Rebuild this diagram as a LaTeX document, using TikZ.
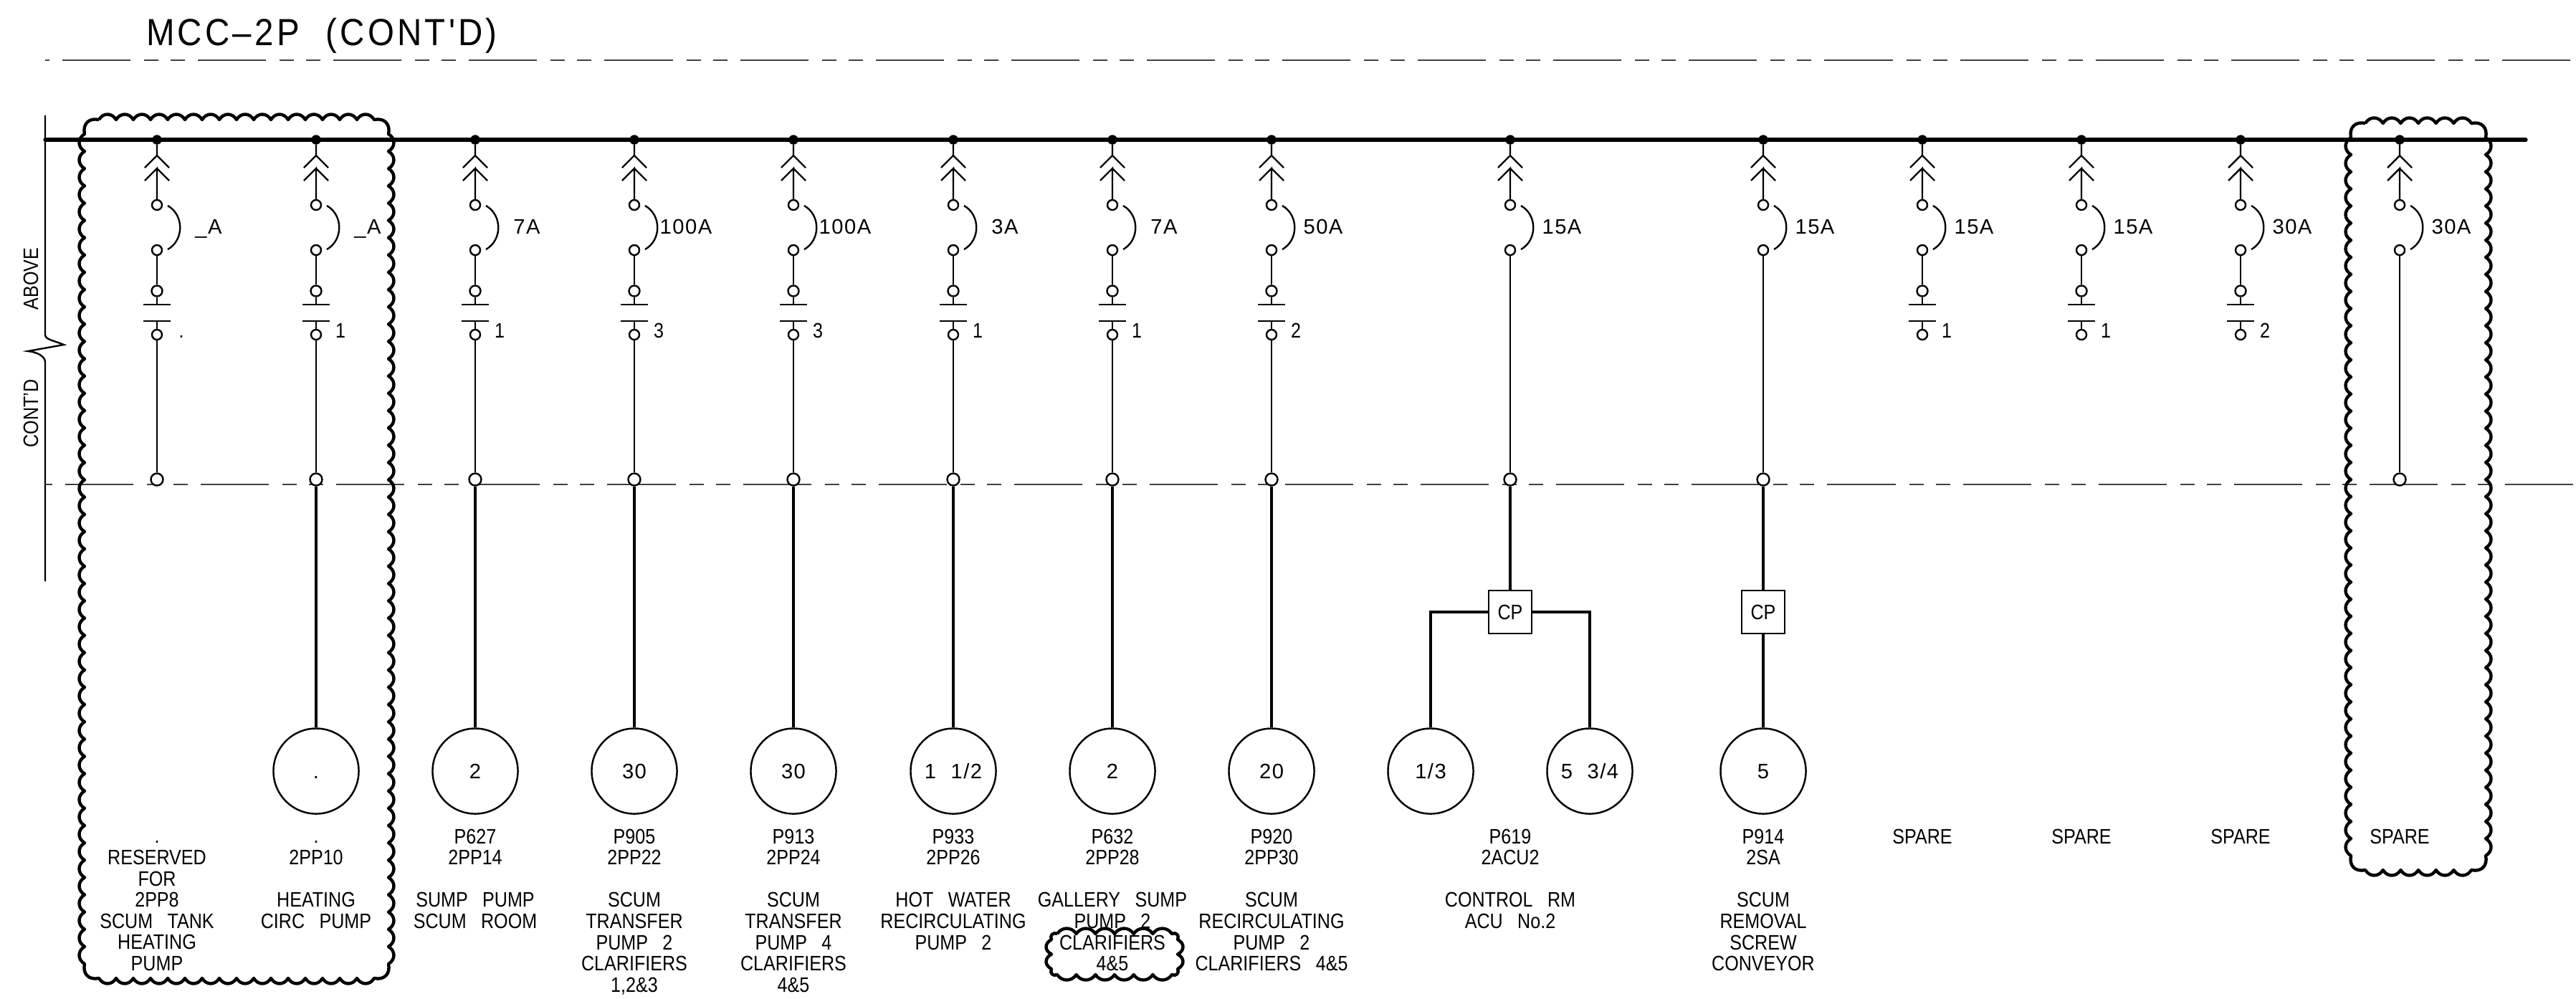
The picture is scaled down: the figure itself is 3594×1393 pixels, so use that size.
\documentclass[tikz,border=0pt]{standalone}
\usepackage{fontspec}
\setmainfont[FakeStretch=0.86]{Liberation Sans}
\newfontfamily\titlefont[FakeStretch=0.9,LetterSpace=8]{Liberation Sans}
\newfontfamily\numfont[LetterSpace=5]{Liberation Sans}
\usetikzlibrary{calc, positioning}
\tikzstyle{bus}=[line width=1.5pt, line cap=round]
\tikzstyle{wire}=[line width=0.68pt]
\tikzstyle{feeder}=[line width=0.95pt]
\tikzstyle{centerline}=[line width=0.4pt, black!75, dash pattern=on .95cm off .19cm on .2cm off .17cm on .2cm off .18cm]
\tikzstyle{tap}=[draw, shape=circle, fill=black, inner sep=0pt, minimum size=.12cm]
\tikzstyle{term}=[draw, shape=circle, fill=white, line width=0.68pt, inner sep=0pt, minimum size=.14cm]
\tikzstyle{bigterm}=[term, minimum size=.17cm]
\tikzstyle{txt}=[font=\fontsize{8.3}{8.42}\selectfont, text height=.2cm, text depth=0pt, inner sep=0pt]
\tikzstyle{numtxt}=[txt, font=\numfont\fontsize{8.3}{8.42}\selectfont]
\tikzstyle{motor}=[draw, shape=circle, line width=0.7pt, inner sep=0pt, minimum size=1.19cm, numtxt]
\tikzstyle{cpbox}=[draw, shape=rectangle, line width=0.7pt, fill=white, inner sep=0pt, minimum size=.6cm, txt]
\tikzstyle{tag}=[font=\fontsize{8.3}{8.42}\selectfont, align=center, anchor=north, inner sep=0pt]
\tikzstyle{cloudline}=[line width=1.25pt, line join=round]
\newcommand{\gp}{\hspace{.7em}}
% x1, y1, x2, y2 of the cusps, corner, bumps across, bumps down
\newcommand{\cloudrect}[7]{%
  \pgfmathsetmacro{\cloudw}{(#3-#1-2*#5)/#6}
  \pgfmathsetmacro{\cloudh}{(#4-#2-2*#5)/#7}
  \draw[cloudline] (#1+#5,#2)
    \foreach \i in {1,...,#6} { .. controls +(\cloudw/4,-10) and +(-\cloudw/4,-10) .. ++(\cloudw,0) }
    .. controls +(#5*.7,-3) and +(3,-#5*.7) .. ++(#5,#5)
    \foreach \i in {1,...,#7} { .. controls +(10,\cloudh/4) and +(10,-\cloudh/4) .. ++(0,\cloudh) }
    .. controls +(3,#5*.7) and +(#5*.7,3) .. ++(-#5,#5)
    \foreach \i in {1,...,#6} { .. controls +(-\cloudw/4,10) and +(\cloudw/4,10) .. ++(-\cloudw,0) }
    .. controls +(-#5*.7,3) and +(-3,#5*.7) .. ++(-#5,-#5)
    \foreach \i in {1,...,#7} { .. controls +(-10,-\cloudh/4) and +(-10,\cloudh/4) .. ++(0,-\cloudh) }
    .. controls +(-3,-#5*.7) and +(-#5*.7,-3) .. ++(#5,-#5);
}

\begin{document}
\begin{tikzpicture}[x=.01cm, y=-.01cm]
\useasboundingbox (0,0) rectangle (3594,1393);
% the heading
\node[font=\titlefont\fontsize{15}{15}\selectfont, inner sep=0pt] (title) at (449,50) {MCC–2P\gp{}(CONT'D)};
\coordinate (HL) at (63,84);
\coordinate (HR) at (3594,84);
\draw[centerline, dash phase=1.65cm] (HL) -- (HR);
% the lower centre line
\coordinate (LL) at (63,676);
\coordinate (LR) at (3594,676);
\draw[centerline, dash phase=1.61cm] (LL) -- (LR);
% the break line at the left
\coordinate (E0) at (63,161);
\coordinate (E1) at (63,467);
\coordinate (E2) at (89,481);
\coordinate (E3) at (39,490);
\coordinate (E4) at (63,505);
\coordinate (E5) at (63,811);
\draw[wire] (E0) -- (E1) .. controls +(0,7) and +(-14,-6) .. (E2) -- (E3) .. controls +(12,1) and +(0,-8) .. (E4) -- (E5);
\node[txt, rotate=90] (above) at (43,389) {ABOVE};
\node[txt, rotate=90] (contd) at (43,577) {CONT'D};
% the clouds
\cloudrect{118}{167}{542}{1365}{20}{16}{48}
\cloudrect{3280}{172}{3468}{1214}{20}{6}{42}
\cloudrect{1467}{1303}{1643}{1360}{8}{6}{2}
% the bus
\coordinate (BL) at (63,195);
\coordinate (BR) at (3524,195);
\draw[bus] (BL) -- (BR);
% the breakers
\foreach \n/\x/\amp in {1/219/\_A, 2/441/\_A, 3/663/7A, 4/885/100A, 5/1107/100A, 6/1330/3A, 7/1552/7A, 8/1774/50A, 9/2107/15A, 10/2460/15A, 11/2682/15A, 12/2904/15A, 13/3126/30A, 14/3348/30A} {
  \node[tap] (T\n) at (\x,195) {};
  \coordinate (P\n) at (\x,217);
  \coordinate (Q\n) at (\x,235);
  \node[term] (U\n) at (\x,286) {};
  \node[term] (V\n) at (\x,349) {};
  \coordinate (AU\n) at (\x+15,287);
  \coordinate (AV\n) at (\x+15,348);
  \draw[wire] (T\n) -- (P\n) -- +(-17,17) (P\n) -- +(17,17);
  \draw[wire] (U\n) -- (Q\n) -- +(-17,17) (Q\n) -- +(17,17);
  \draw[wire] (AU\n) .. controls +(23,13) and +(23,-13) .. (AV\n);
  \node[numtxt] (amp\n) at (\x+72,316) {\amp};
}
% the contactors
\foreach \n/\x/\num in {1/219/., 2/441/1, 3/663/1, 4/885/3, 5/1107/3, 6/1330/1, 7/1552/1, 8/1774/2, 11/2682/1, 12/2904/1, 13/3126/2} {
  \node[term, minimum size=.15cm] (K\n) at (\x,406) {};
  \node[term] (W\n) at (\x,467) {};
  \coordinate (Ka\n) at (\x,425);
  \coordinate (Kb\n) at (\x,448);
  \draw[wire] (V\n) -- (K\n) -- (Ka\n) +(-19,0) -- +(19,0);
  \draw[wire] (W\n) -- (Kb\n) +(-19,0) -- +(19,0);
  \node[txt] (num\n) at (\x+34,461) {\num};
}
% the lines down to the centre line
\foreach \n/\x in {1/219, 2/441, 3/663, 4/885, 5/1107, 6/1330, 7/1552, 8/1774} {
  \node[bigterm] (X\n) at (\x,669) {};
  \draw[wire] (W\n) -- (X\n);
}
\foreach \n/\x in {9/2107, 10/2460, 14/3348} {
  \node[bigterm] (X\n) at (\x,669) {};
  \draw[wire] (V\n) -- (X\n);
}
% the motors
\foreach \n/\x/\hp in {2/441/., 3/663/2, 4/885/30, 5/1107/30, 6/1330/{1\gp{}1/2}, 7/1552/2, 8/1774/20} {
  \node[motor] (M\n) at (\x,1076) {\hp};
  \draw[feeder] (X\n) -- (M\n);
}
% the control panels
\node[cpbox] (CP9) at (2107,854) {CP};
\node[cpbox] (CP10) at (2460,854) {CP};
\node[motor] (M9a) at (1996,1076) {1/3};
\node[motor] (M9b) at (2218,1076) {5\gp{}3/4};
\node[motor] (M10) at (2460,1076) {5};
\draw[feeder] (X9) -- (CP9);
\draw[feeder] (X10) -- (CP10) -- (M10);
\draw[feeder] (CP9) -| (M9a);
\draw[feeder] (CP9) -| (M9b);
% the texts below
\node[tag] (L1) at (219,1156) {.\vphantom{P}\\RESERVED\\FOR\\2PP8\\SCUM\gp{}TANK\\HEATING\\PUMP};
\node[tag] (L2) at (441,1156) {.\vphantom{P}\\2PP10\\ \\HEATING\\CIRC\gp{}PUMP};
\node[tag] (L3) at (663,1156) {P627\\2PP14\\ \\SUMP\gp{}PUMP\\SCUM\gp{}ROOM};
\node[tag] (L4) at (885,1156) {P905\\2PP22\\ \\SCUM\\TRANSFER\\PUMP\gp{}2\\CLARIFIERS\\1,2\&3};
\node[tag] (L5) at (1107,1156) {P913\\2PP24\\ \\SCUM\\TRANSFER\\PUMP\gp{}4\\CLARIFIERS\\4\&5};
\node[tag] (L6) at (1330,1156) {P933\\2PP26\\ \\HOT\gp{}WATER\\RECIRCULATING\\PUMP\gp{}2};
\node[tag] (L7) at (1552,1156) {P632\\2PP28\\ \\GALLERY\gp{}SUMP\\PUMP\gp{}2\\CLARIFIERS\\4\&5};
\node[tag] (L8) at (1774,1156) {P920\\2PP30\\ \\SCUM\\RECIRCULATING\\PUMP\gp{}2\\CLARIFIERS\gp{}4\&5};
\node[tag] (L9) at (2107,1156) {P619\\2ACU2\\ \\CONTROL\gp{}RM\\ACU\gp{}No.2};
\node[tag] (L10) at (2460,1156) {P914\\2SA\\ \\SCUM\\REMOVAL\\SCREW\\CONVEYOR};
\node[tag] (L11) at (2682,1156) {SPARE};
\node[tag] (L12) at (2904,1156) {SPARE};
\node[tag] (L13) at (3126,1156) {SPARE};
\node[tag] (L14) at (3348,1156) {SPARE};
\end{tikzpicture}
\end{document}
